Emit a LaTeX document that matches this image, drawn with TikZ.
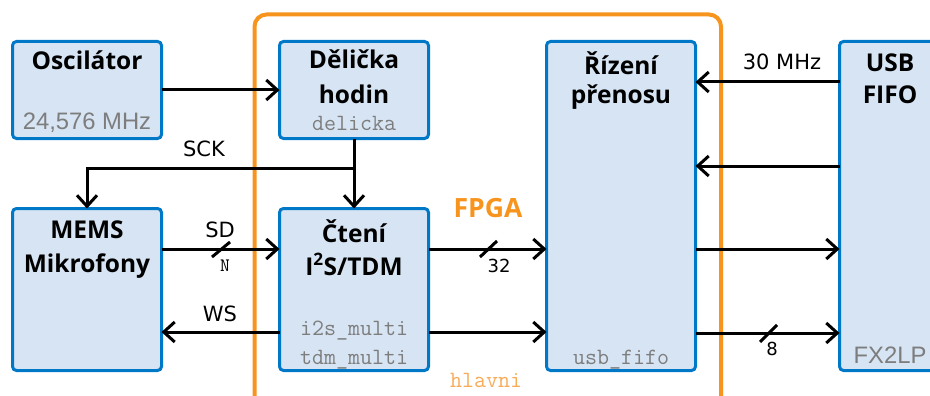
\documentclass[tikz,border=0pt]{standalone}
\usepackage{fontspec}
\usetikzlibrary{arrows.meta,calc}
\newfontfamily\headfont{Open Sans}
\newfontfamily\labfont{DejaVu Sans}
\newfontfamily\subfont{Liberation Sans}
\definecolor{boxline}{RGB}{0,120,200}
\definecolor{boxfill}{RGB}{214,228,243}
\definecolor{fpgaorange}{RGB}{247,148,30}
\definecolor{subgray}{RGB}{125,125,125}
\definecolor{modorange}{RGB}{248,172,90}
\tikzset{
  x=1pt, y=-1pt,
  block/.style={draw=boxline, fill=boxfill, line width=3pt, rounded corners=4pt,
    inner sep=0pt, outer sep=0pt},
  fpgabox/.style={draw=fpgaorange, line width=4pt, rounded corners=12pt,
    inner sep=0pt, outer sep=0pt},
  head/.style={font=\headfont\bfseries\fontsize{24.5}{28}\selectfont, anchor=base, inner sep=0pt},
  sub/.style={font=\subfont\fontsize{23.8}{27}\selectfont, text=subgray, anchor=base, inner sep=0pt},
  modname/.style={font=\ttfamily\fontsize{23.3}{27}\selectfont, text=subgray, anchor=base, inner sep=0pt},
  lab/.style={font=\labfont\fontsize{21}{25}\selectfont, anchor=base, inner sep=0pt},
  buswidth/.style={font=\labfont\fontsize{18}{22}\selectfont, anchor=base, inner sep=0pt},
  sig/.style={line width=3pt, -{Straight Barb[length=11pt,width=20pt]}},
  slash/.style={line width=3pt},
}
\begin{document}
\begin{tikzpicture}
\useasboundingbox (0,0) rectangle (930,396);
\clip (0,0) rectangle (930,396);

% FPGA frame
\node[fpgabox, minimum width=466.5pt, minimum height=405.5pt] (fpga) at (487.75,217.25) {};
\node[head, font=\headfont\bfseries\fontsize{26.5}{30}\selectfont, text=fpgaorange] (fpgat) at (488,217) {FPGA};
\node[modname, text=modorange] (hlavni) at (486,387) {hlavni};

% blocks
\node[block, minimum width=149pt, minimum height=97pt] (osc) at (87,90) {};
\node[block, minimum width=149pt, minimum height=97pt] (del) at (354,90) {};
\node[block, minimum width=149pt, minimum height=162pt] (mems) at (87,289.5) {};
\node[block, minimum width=149pt, minimum height=162pt] (cteni) at (354,289.5) {};
\node[block, minimum width=149pt, minimum height=329pt] (rizeni) at (621,206) {};
\node[block, minimum width=101pt, minimum height=329pt] (usb) at (890,206) {};

% block texts
\node[head] (osct) at (87,70) {Oscilátor};
\node[sub] (oscf) at (87,129) {24,576 MHz};
\node[head] (delt1) at (354,69) {Dělička};
\node[head] (delt2) at (354,103) {hodin};
\node[modname] (delm) at (354,131) {delicka};
\node[head] (memst1) at (87,238) {MEMS};
\node[head] (memst2) at (87,272) {Mikrofony};
\node[head] (ctt1) at (354,242) {Čtení};
\node[head] (ctt2) at (354,275) {I\textsuperscript{2}S/TDM};
\node[modname] (ctm1) at (354,335) {i2s\_multi};
\node[modname] (ctm2) at (354,364) {tdm\_multi};
\node[head] (rzt1) at (621,75) {Řízení};
\node[head] (rzt2) at (621,103) {přenosu};
\node[modname] (rzm) at (621,364) {usb\_fifo};
\node[head] (usbt1) at (890,72) {USB};
\node[head] (usbt2) at (890,103) {FIFO};
\node[sub] (usbm) at (890,363) {FX2LP};

% signal rows
\coordinate (rSCK) at (0,168);
\coordinate (rSD) at (0,249);
\coordinate (rWS) at (0,332);
\coordinate (rU1) at (0,82);
\coordinate (rU2) at (0,166);
\coordinate (rU3) at (0,249);
\coordinate (rU4) at (0,333);

% clock from oscillator to divider
\draw[sig] (osc.east) -- (del.west);

% SCK distribution
\draw[sig] (del.south) -- (cteni.north);
\draw[sig] (del.south |- rSCK) -- (mems.north |- rSCK) -- (mems.north);
\node[lab] (sck) at (204,156) {SCK};

% SD and WS
\draw[sig] (mems.east |- rSD) -- (cteni.west |- rSD);
\draw[slash] (212,257) -- (230,242);
\node[lab] (sd) at (220,237) {SD};
\node[modname, text=black, font=\ttfamily\fontsize{19}{22}\selectfont] (nn) at (225,271) {N};
\draw[sig] (cteni.west |- rWS) -- (mems.east |- rWS);
\node[lab] (ws) at (220,321) {WS};

% reader to transfer control
\draw[sig] (cteni.east |- rSD) -- (rizeni.west |- rSD);
\draw[slash] (480,257) -- (497,241);
\node[buswidth] (w32) at (499,272) {32};
\draw[sig] (cteni.east |- rWS) -- (rizeni.west |- rWS);

% USB FIFO interface
\draw[sig] (usb.west |- rU1) -- (rizeni.east |- rU1);
\node[lab] (mhz) at (782,70) {30 MHz};
\draw[sig] (usb.west |- rU2) -- (rizeni.east |- rU2);
\draw[sig] (rizeni.east |- rU3) -- (usb.west |- rU3);
\draw[sig] (rizeni.east |- rU4) -- (usb.west |- rU4);
\draw[slash] (760,342) -- (777,325);
\node[buswidth] (w8) at (772,355) {8};
\end{tikzpicture}
\end{document}
